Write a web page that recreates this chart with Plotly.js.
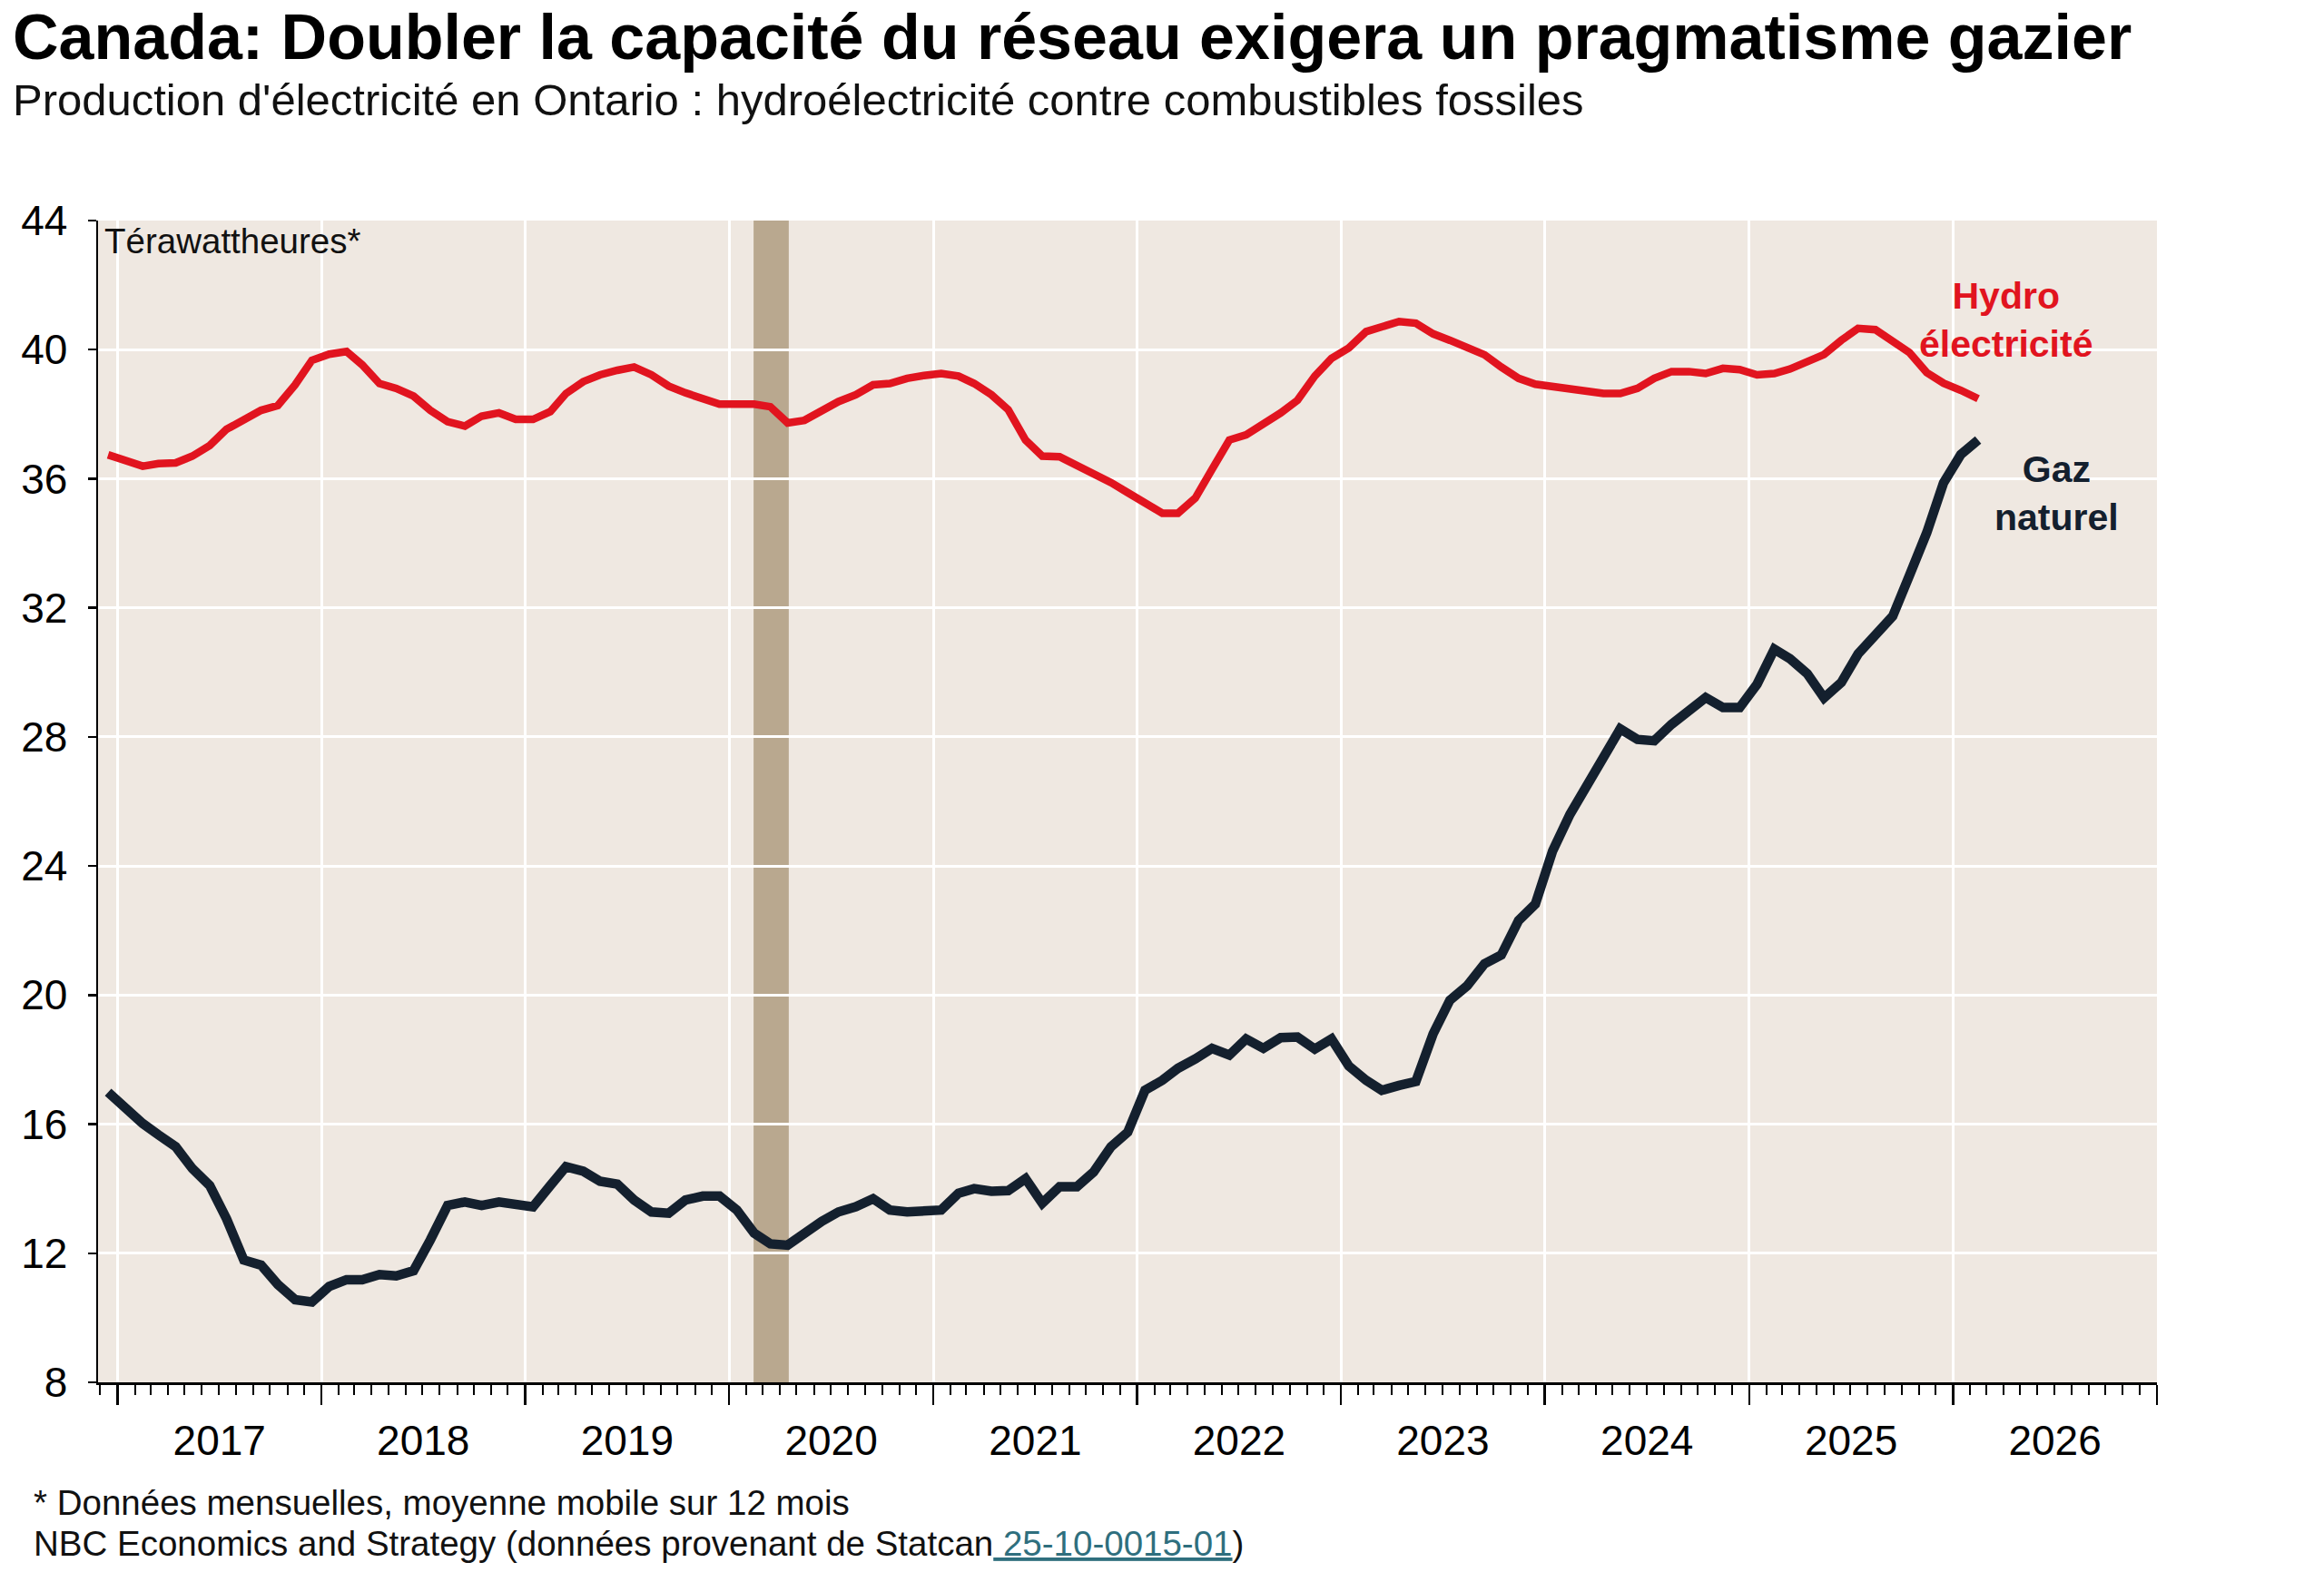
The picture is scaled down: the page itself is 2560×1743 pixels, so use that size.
<!DOCTYPE html>
<html><head><meta charset="utf-8">
<script src="https://cdn.plot.ly/plotly-3.0.1.min.js"></script>
<style>html,body{margin:0;padding:0;background:#fff}</style>
</head><body>
<div id="chart" style="width:2560px;height:1743px"></div>
<script>
// Monthly series (12-month moving average), first point December 2016
const firstYear = 2016, firstMonth = 12;
const hydro = [
36.74,36.58,36.39,36.47,36.49,36.70,37.03,37.53,37.84,38.12,38.27,38.91,
39.67,39.86,39.94,39.53,38.95,38.80,38.56,38.12,37.77,37.63,37.94,38.04,
37.84,37.84,38.08,38.64,39.01,39.22,39.36,39.46,39.22,38.87,38.66,38.45,
38.31,38.31,38.31,38.23,37.73,37.81,38.14,38.39,38.60,38.91,38.95,39.11,
39.20,39.26,39.18,38.95,38.60,38.14,37.20,36.70,36.68,36.43,36.19,35.88,
35.57,35.26,34.93,34.93,35.40,36.29,37.20,37.36,37.67,38.04,38.43,39.18,
39.73,40.05,40.56,40.70,40.87,40.82,40.49,40.29,40.04,39.84,39.46,39.11,
38.93,38.85,38.76,38.72,38.64,38.64,38.80,39.11,39.32,39.32,39.26,39.42,
39.38,39.22,39.26,39.40,39.62,39.85,40.29,40.66,40.62,40.29,39.91,39.29,
38.96,38.74,38.48];
const gas = [
16.99,16.47,16.02,15.67,15.30,14.62,14.10,13.07,11.79,11.63,11.03,10.56,
10.49,10.97,11.18,11.18,11.34,11.30,11.46,12.41,13.48,13.59,13.48,13.59,
13.48,13.44,14.10,14.68,14.54,14.23,14.14,13.65,13.28,13.24,13.65,13.77,
13.77,13.34,12.62,12.29,12.25,12.62,12.99,13.28,13.44,13.69,13.34,13.28,
13.32,13.34,13.86,14.00,13.92,13.94,14.31,13.55,14.06,14.06,14.52,15.30,
15.75,17.05,17.36,17.73,18.02,18.35,18.14,18.64,18.35,18.68,18.70,18.33,
18.64,17.80,17.36,17.05,17.20,17.32,18.80,19.84,20.29,20.97,21.24,22.31,
22.82,24.47,25.60,26.47,27.30,28.25,27.92,27.88,28.39,28.80,29.22,28.91,
28.91,29.63,30.72,30.42,29.96,29.21,29.69,30.57,31.13,31.74,33.00,34.33,
35.87,36.75,37.20];
const recession = ["2020-02-14", "2020-04-17"];
const xRange = ["2016-11-27", "2027-01-01 06:00"];
const yRange = [8, 44];

const dates = hydro.map((_, k) => {
  const m0 = firstMonth - 1 + k;
  const y = firstYear + Math.floor(m0 / 12);
  const m = (m0 % 12) + 1;
  return y + "-" + String(m).padStart(2, "0") + "-15";
});

const FONT = "Liberation Sans, Arial, Helvetica, sans-serif";
const L = 108, R = 184, T = 243, B = 220, W = 2560, H = 1743;
const PW = W - L - R, PH = H - T - B;
const px = x => (x - L) / PW;
const py = y => (H - B - y) / PH;

const traces = [
  {x: dates, y: gas, type: "scatter", mode: "lines", name: "Gaz naturel",
   line: {color: "#14202e", width: 10.5}, hoverinfo: "skip"},
  {x: dates, y: hydro, type: "scatter", mode: "lines", name: "Hydroélectricité",
   line: {color: "#e1141f", width: 8.5}, hoverinfo: "skip"}
];

const ann = (x, y, text, opts) => Object.assign({
  xref: "paper", yref: "paper", x: px(x), y: py(y), text: text,
  showarrow: false, xanchor: "left", yanchor: "middle", align: "left",
  font: {family: FONT, size: 38, color: "#111"}
}, opts || {});

const layout = {
  width: W, height: H,
  margin: {l: L, r: R, t: T, b: B, pad: 0},
  paper_bgcolor: "#ffffff", plot_bgcolor: "#efe8e1",
  font: {family: FONT, color: "#111", size: 46},
  showlegend: false,
  xaxis: {
    type: "date", range: xRange, tick0: "2017-01-01", dtick: "M12",
    tickformat: "%Y", ticklabelmode: "period",
    ticks: "outside", ticklen: 22, tickwidth: 2.5, tickcolor: "#000",
    showgrid: true, gridcolor: "#ffffff", gridwidth: 3,
    showline: true, linecolor: "#000", linewidth: 2.5, zeroline: false,
    tickfont: {family: FONT, size: 46, color: "#000"},
    minor: {ticks: "outside", dtick: "M1", tick0: "2017-01-01", ticklen: 11,
            tickwidth: 2, tickcolor: "#000", showgrid: false},
    fixedrange: true
  },
  yaxis: {
    range: yRange, tick0: 8, dtick: 4,
    ticks: "outside", ticklen: 9, tickwidth: 2.5, tickcolor: "#000",
    showgrid: true, gridcolor: "#ffffff", gridwidth: 3,
    showline: true, linecolor: "#000", linewidth: 2.5, zeroline: false,
    tickfont: {family: FONT, size: 46, color: "#000"},
    ticklabelstandoff: 13, fixedrange: true
  },
  shapes: [{type: "rect", xref: "x", yref: "paper", x0: recession[0], x1: recession[1],
            y0: 0, y1: 1, fillcolor: "#b9a88f", line: {width: 0}, layer: "between"}],
  annotations: [
    ann(12, 41, "<b>Canada: Doubler la capacité du réseau exigera un pragmatisme gazier</b>",
        {font: {family: FONT, size: 70, color: "#000"}}),
    ann(12, 110, "Production d'électricité en Ontario : hydroélectricité contre combustibles fossiles",
        {font: {family: FONT, size: 49, color: "#111"}}),
    ann(113, 265, "Térawattheures*", {font: {family: FONT, size: 38.5, color: "#111"}}),
    ann(2209, 352, "<b>Hydro<br>électricité</b>",
        {xanchor: "center", align: "center", font: {family: FONT, size: 41, color: "#e1141f"}}),
    ann(2265, 543, "<b>Gaz<br>naturel</b>",
        {xanchor: "center", align: "center", font: {family: FONT, size: 41, color: "#14202e"}}),
    ann(35, 1655, "* Données mensuelles, moyenne mobile sur 12 mois",
        {font: {family: FONT, size: 38.5, color: "#111"}}),
    ann(35, 1700, "NBC Economics and Strategy (données provenant de Statcan<span style='color:#2f6f7e'><u> 25-10-0015-01</u></span>)",
        {font: {family: FONT, size: 38.5, color: "#111"}})
  ]
};

Plotly.newPlot("chart", traces, layout, {staticPlot: true, displayModeBar: false});
</script>
</body></html>
